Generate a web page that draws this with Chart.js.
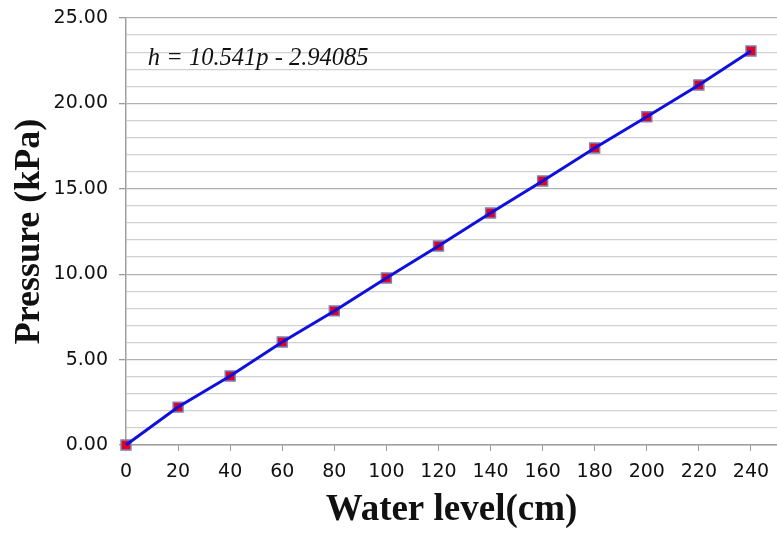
<!DOCTYPE html>
<html>
<head>
<meta charset="utf-8">
<script src="https://cdn.jsdelivr.net/npm/chart.js@4"></script>
<style>
html,body{margin:0;padding:0;background:#fff;}
#wrap{width:777px;height:533px;position:relative;}
</style>
</head>
<body>
<div id="wrap"><canvas id="c" width="777" height="533"></canvas></div>
<script>
const waterLevel = [0, 20, 40, 60, 80, 100, 120, 140, 160, 180, 200, 220, 240];
const pressure = [0.00, 2.22, 4.04, 6.03, 7.85, 9.78, 11.65, 13.58, 15.46, 17.39, 19.22, 21.08, 23.07];
const xTicks = [0, 20, 40, 60, 80, 100, 120, 140, 160, 180, 200, 220, 240];
const yTicks = [];
for (let v = 0; v <= 25; v++) yTicks.push(v);
const equationText = 'h = 10.541p - 2.94085';

const pts = waterLevel.map((x, i) => ({x: x, y: pressure[i]}));

const eqPlugin = {
  id: 'eq',
  afterDatasetsDraw(chart) {
    const ctx = chart.ctx;
    const xs = chart.scales.x, ys = chart.scales.y;
    ctx.save();
    ctx.font = 'italic 24.5px "Liberation Serif", "Times New Roman", serif';
    ctx.fillStyle = '#111';
    ctx.textBaseline = 'middle';
    ctx.textAlign = 'left';
    ctx.fillText(equationText, xs.getPixelForValue(8.4), ys.getPixelForValue(22.6));
    ctx.restore();
  }
};

new Chart(document.getElementById('c'), {
  type: 'scatter',
  data: {
    datasets: [
      {
        type: 'line',
        data: pts,
        borderColor: '#1010dc',
        borderWidth: 3,
        pointRadius: 0,
        fill: false,
        tension: 0,
        order: 0
      },
      {
        data: pts,
        pointStyle: 'rect',
        pointRadius: 7,
        backgroundColor: '#e6001e',
        borderColor: '#7a80b4',
        borderWidth: 1.5,
        order: 1
      }
    ]
  },
  options: {
    responsive: false,
    animation: false,
    clip: false,
    layout: {autoPadding: false, padding: {top: 18, right: 0, left: 0, bottom: 0}},
    plugins: {legend: {display: false}, tooltip: {enabled: false}},
    scales: {
      x: {
        type: 'linear',
        min: 0,
        max: 250,
        afterBuildTicks(scale) { scale.ticks = xTicks.map(v => ({value: v})); },
        afterFit(scale) { scale.height = 88; scale.paddingLeft = 0; scale.paddingRight = 0; },
        grid: {
          drawOnChartArea: false,
          drawTicks: true,
          tickLength: 6,
          tickColor: '#9a9a9a',
          lineWidth: 1
        },
        border: {display: true, color: '#a0a0a0', width: 1.5},
        ticks: {
          font: {family: '"DejaVu Sans", Verdana, sans-serif', size: 19},
          color: '#111',
          padding: 10,
          maxRotation: 0,
          autoSkip: false
        },
        title: {
          display: true,
          text: 'Water level(cm)',
          font: {family: '"Liberation Serif", "Times New Roman", serif', size: 37, weight: 'bold'},
          color: '#111',
          padding: {top: 4, bottom: 0}
        }
      },
      y: {
        type: 'linear',
        min: 0,
        max: 25,
        afterBuildTicks(scale) { scale.ticks = yTicks.map(v => ({value: v})); },
        afterFit(scale) { scale.width = 126; scale.paddingTop = 0; scale.paddingBottom = 0; },
        grid: {
          drawOnChartArea: true,
          drawTicks: true,
          tickLength: 7,
          color: ctx => (ctx.tick && ctx.tick.value % 5 === 0) ? '#b0b0b0' : '#d0d0d0',
          tickColor: ctx => (ctx.tick && ctx.tick.value % 5 === 0) ? '#9a9a9a' : 'rgba(0,0,0,0)',
          lineWidth: 1.3
        },
        border: {display: true, color: '#a0a0a0', width: 1.5},
        ticks: {
          font: {family: '"DejaVu Sans", Verdana, sans-serif', size: 19},
          color: '#111',
          padding: 11,
          autoSkip: false,
          callback: v => (v % 5 === 0) ? v.toFixed(2) : ''
        },
        title: {
          display: true,
          text: 'Pressure (kPa)',
          font: {family: '"Liberation Serif", "Times New Roman", serif', size: 36, weight: 'bold'},
          color: '#111',
          padding: {top: 8, bottom: 0}
        }
      }
    }
  },
  plugins: [eqPlugin]
});
</script>
</body>
</html>
